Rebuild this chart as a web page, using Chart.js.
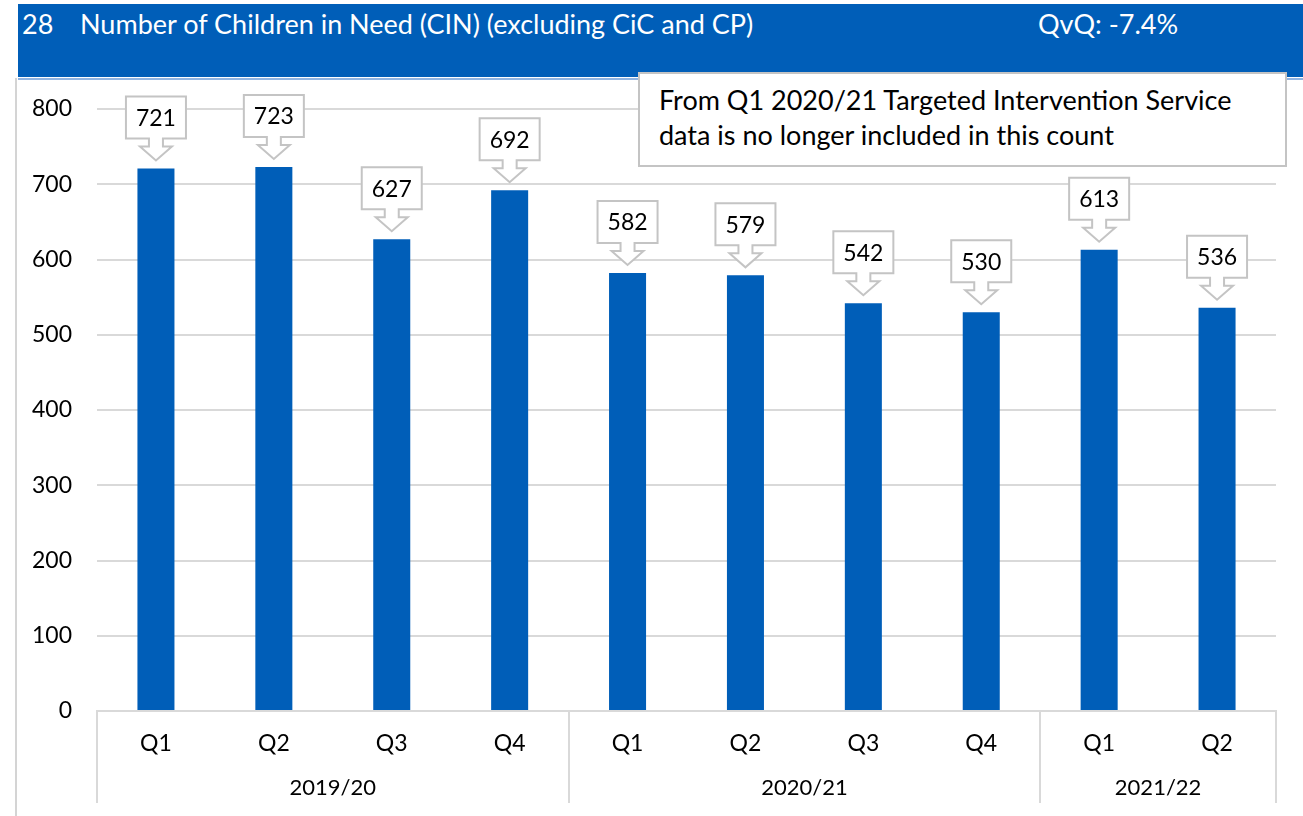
<!DOCTYPE html>
<html>
<head>
<meta charset="utf-8">
<script src="https://cdn.jsdelivr.net/npm/chart.js@4.4.1/dist/chart.umd.min.js"></script>
<style>
  body { margin: 0; width: 1303px; height: 816px; background: #fff; position: relative; overflow: hidden; font-family: Lato, 'Open Sans', sans-serif; }
  #band { position: absolute; left: 18px; top: 4px; width: 1285px; height: 73px; background: #005EB8; }
  #band span { position: absolute; top: 4px; color: #fff; font-size: 27px; line-height: 32px; white-space: nowrap; }
  #bandline { position: absolute; left: 18px; top: 78px; width: 1285px; height: 2px; background: #8fb4e3; }
  #frame { position: absolute; left: 15px; top: 78px; width: 2px; height: 738px; background: #d4d4d4; }
  #note { position: absolute; left: 638px; top: 72px; width: 645px; height: 91px; background: #fff; border: 2px solid #c4c4c4; z-index: 2; }
  #note div { position: absolute; left: 19px; top: 8px; font-size: 27px; line-height: 35px; color: #000; white-space: nowrap; }
  #chart { position: absolute; left: 0; top: 0; }
</style>
</head>
<body>
<div id="band">
  <span style="left:4px">28</span>
  <span style="left:62px">Number of Children in Need (CIN) (excluding CiC and CP)</span>
  <span style="left:1020px">QvQ: -7.4%</span>
</div>
<div id="bandline"></div>
<div id="frame"></div>
<canvas id="chart" width="1303" height="816"></canvas>
<div id="note"><div>From Q1 2020/21 Targeted Intervention Service<br>data is no longer included in this count</div></div>

<script>
'use strict'

const quarters = ['Q1', 'Q2', 'Q3', 'Q4', 'Q1', 'Q2', 'Q3', 'Q4', 'Q1', 'Q2']
const years = ['2019/20', '2020/21', '2021/22']
const yearSpans = [4, 4, 2]
const values = [721, 723, 627, 692, 582, 579, 542, 530, 613, 536]

const FONT = 'Lato, "Open Sans", sans-serif'
const GRID = '#d9d9d9'

// callouts over the bars + two-level x axis
const extras = {
  id: 'extras',
  afterDatasetsDraw: chart => {
    const { ctx, chartArea } = chart
    const x = chart.scales.x
    const y = chart.scales.y
    const half = (x.getPixelForValue(1) - x.getPixelForValue(0)) / 2

    ctx.save()
    ctx.font = '23px ' + FONT
    ctx.textAlign = 'center'
    ctx.textBaseline = 'middle'

    values.forEach((v, i) => {
      const cx = x.getPixelForValue(i)
      const tip = y.getPixelForValue(v) - 8
      const w = ctx.measureText(String(v)).width + 20
      const bb = tip - 22
      const bt = bb - 42

      ctx.beginPath()
      ctx.moveTo(cx - w / 2, bt)
      ctx.lineTo(cx + w / 2, bt)
      ctx.lineTo(cx + w / 2, bb)
      ctx.lineTo(cx + 7, bb)
      ctx.lineTo(cx + 7, bb + 8)
      ctx.lineTo(cx + 16, bb + 8)
      ctx.lineTo(cx, tip)
      ctx.lineTo(cx - 16, bb + 8)
      ctx.lineTo(cx - 7, bb + 8)
      ctx.lineTo(cx - 7, bb)
      ctx.lineTo(cx - w / 2, bb)
      ctx.closePath()
      ctx.fillStyle = '#fff'
      ctx.fill()
      ctx.lineWidth = 2
      ctx.strokeStyle = '#c4c4c4'
      ctx.stroke()

      ctx.fillStyle = '#000'
      ctx.fillText(String(v), cx, (bt + bb) / 2 + 1)
    })

    // group separators and year labels
    ctx.strokeStyle = GRID
    ctx.lineWidth = 2
    let start = 0
    const edges = [0]
    yearSpans.forEach(n => { start += n; edges.push(start) })
    edges.forEach(e => {
      const px = Math.round(x.getPixelForValue(e) - half)
      ctx.beginPath()
      ctx.moveTo(px, chartArea.bottom)
      ctx.lineTo(px, 803)
      ctx.stroke()
    })
    ctx.font = '22px ' + FONT
    years.forEach((label, g) => {
      const a = x.getPixelForValue(edges[g]) - half
      const b = x.getPixelForValue(edges[g + 1]) - half
      ctx.fillText(label, (a + b) / 2, 788)
    })
    ctx.restore()
  }
}

new Chart(document.getElementById('chart'), {
  type: 'bar',
  data: {
    labels: quarters,
    datasets: [{
      data: values,
      backgroundColor: '#005EB8',
      categoryPercentage: 1,
      barPercentage: 0.314
    }]
  },
  options: {
    responsive: false,
    animation: false,
    layout: { padding: { top: 109, right: 27, bottom: 0, left: 0 } },
    plugins: {
      legend: { display: false },
      tooltip: { enabled: false }
    },
    scales: {
      y: {
        min: 0,
        max: 800,
        ticks: { stepSize: 100, color: '#000', padding: 25, font: { family: FONT, size: 23 } },
        grid: { color: GRID, lineWidth: 2, drawTicks: false },
        border: { display: false },
        afterFit: s => { s.width = 97 }
      },
      x: {
        grid: { display: false },
        border: { color: GRID, width: 2 },
        ticks: { color: '#000', padding: 11, font: { family: FONT, size: 23 } },
        afterFit: s => { s.height = 105 }
      }
    }
  },
  plugins: [extras]
})
</script>
</body>
</html>
